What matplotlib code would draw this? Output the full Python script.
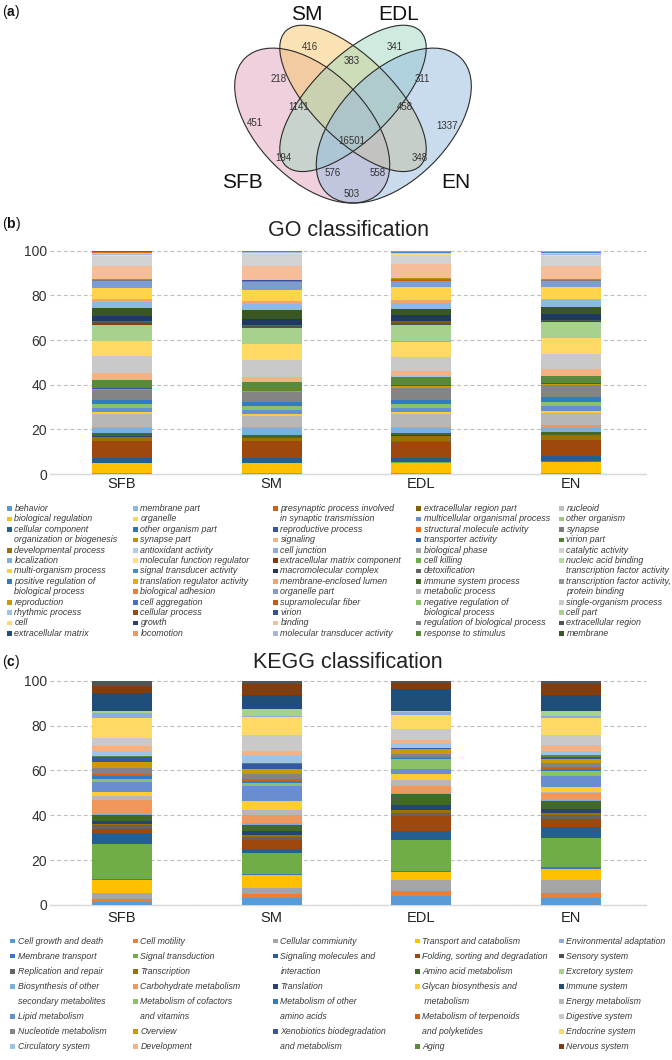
import matplotlib
matplotlib.use('Agg')
import matplotlib.pyplot as plt
from matplotlib.patches import Ellipse, Rectangle
from matplotlib.colors import to_rgb
import numpy as np
import colorsys

plt.rcParams['font.family'] = ['Liberation Sans', 'DejaVu Sans']
plt.rcParams['mathtext.fontset'] = 'custom'
plt.rcParams['mathtext.rm'] = 'Liberation Sans'
plt.rcParams['mathtext.bf'] = 'Liberation Sans:bold'

# ------------------------------------------------------------------ data
venn_sets = ['SFB', 'SM', 'EDL', 'EN']
venn_regions = ['SFB', 'SM', 'EDL', 'EN', 'SFB&SM', 'SM&EDL', 'EDL&EN', 'SFB&EN',
                'SFB&SM&EDL', 'SM&EDL&EN', 'SFB&SM&EDL&EN', 'SFB&EDL', 'SM&EN',
                'SFB&EDL&EN', 'SFB&SM&EN']
venn_counts = [451, 416, 341, 1337, 218, 383, 311, 503, 1141, 458, 16501, 194, 348, 576, 558]

samples = ['SFB', 'SM', 'EDL', 'EN']

go_terms = [
    'behavior', 'biological adhesion', 'biological phase', 'biological regulation',
    'cell aggregation', 'cell killing', 'cellular component organization or biogenesis',
    'cellular process', 'detoxification', 'developmental process', 'growth',
    'immune system process', 'localization', 'locomotion', 'metabolic process',
    'multi-organism process', 'multicellular organismal process',
    'negative regulation of biological process', 'positive regulation of biological process',
    'presynaptic process involved in synaptic transmission', 'regulation of biological process',
    'reproduction', 'reproductive process', 'response to stimulus', 'rhythmic process',
    'signaling', 'single-organism process',
    'cell', 'cell junction', 'cell part', 'extracellular matrix', 'extracellular matrix component',
    'extracellular region', 'extracellular region part', 'macromolecular complex', 'membrane',
    'membrane part', 'membrane-enclosed lumen', 'nucleoid', 'organelle', 'organelle part',
    'other organism', 'other organism part', 'supramolecular fiber', 'synapse', 'synapse part',
    'virion', 'virion part',
    'antioxidant activity', 'binding', 'catalytic activity', 'molecular function regulator',
    'molecular transducer activity', 'nucleic acid binding transcription factor activity',
    'signal transducer activity', 'structural molecule activity',
    'transcription factor activity, protein binding', 'translation regulator activity',
    'transporter activity']

go_SFB = [0.1, 0.3, 0.1, 4.5, 0.1, 0.05, 2.0, 7.6, 0.1, 1.9, 0.2, 1.6, 1.9, 0.6, 6.0, 0.6, 2.0,
          1.8, 1.8, 0.05, 4.2, 0.6, 0.2, 3.8, 0.05, 3.0, 7.6,
          6.6, 0.2, 7.3, 0.1, 0.1, 1.0, 0.3, 2.4, 3.6, 2.7, 1.1, 0.02, 5.2, 3.0, 0.05, 0.05,
          0.1, 0.4, 0.3, 0.05, 0.05,
          0.1, 5.8, 4.3, 0.6, 0.3, 0.3, 0.4, 0.3, 0.1, 0.03, 0.4]
go_SM = [0.1, 0.3, 0.1, 4.4, 0.05, 0.05, 2.0, 7.8, 0.1, 1.1, 0.1, 1.4, 2.9, 0.6, 5.0, 0.7, 2.0,
         1.8, 1.9, 0.05, 4.1, 0.5, 0.2, 3.9, 0.05, 2.3, 7.6,
         7.0, 0.1, 7.2, 0.1, 0.1, 0.9, 0.2, 2.8, 3.9, 2.9, 1.0, 0.02, 5.2, 3.4, 0.05, 0.05,
         0.1, 0.3, 0.2, 0.05, 0.05,
         0.1, 6.3, 5.6, 0.4, 0.2, 0.2, 0.2, 0.1, 0.05, 0.03, 0.1]
go_EDL = [0.1, 0.3, 0.1, 4.6, 0.05, 0.05, 2.1, 7.2, 0.1, 2.6, 0.2, 1.1, 1.9, 0.5, 6.0, 0.7, 2.1,
          1.6, 2.0, 0.05, 5.2, 0.7, 0.5, 3.9, 0.05, 2.5, 6.3,
          6.8, 0.2, 7.2, 0.1, 0.1, 0.9, 0.6, 2.8, 2.9, 2.6, 1.2, 0.02, 5.7, 2.9, 0.05, 0.05,
          0.1, 0.6, 0.3, 0.05, 0.05,
          0.1, 6.1, 4.0, 0.6, 0.2, 0.3, 0.4, 0.2, 0.1, 0.03, 0.25]
go_EN = [0.1, 0.3, 0.1, 5.0, 0.1, 0.1, 2.3, 7.1, 0.1, 2.2, 0.2, 1.4, 2.2, 0.8, 5.3, 0.8, 2.2,
         1.9, 2.3, 0.05, 5.2, 0.6, 0.4, 3.3, 0.05, 2.7, 7.1,
         6.9, 0.2, 7.2, 0.1, 0.1, 0.6, 0.1, 2.4, 3.5, 2.7, 0.8, 0.02, 5.2, 2.5, 0.05, 0.05,
         0.1, 0.5, 0.2, 0.05, 0.05,
         0.1, 6.0, 4.3, 0.6, 0.3, 0.3, 0.4, 0.3, 0.1, 0.03, 0.35]

kegg_terms = [
    'Cell growth and death', 'Cell motility', 'Cellular commiunity', 'Transport and catabolism',
    'Membrane transport', 'Signal transduction', 'Signaling molecules and interaction',
    'Folding, sorting and degradation', 'Replication and repair', 'Transcription', 'Translation',
    'Amino acid metabolism', 'Biosynthesis of other secondary metabolites',
    'Carbohydrate metabolism', 'Energy metabolism', 'Glycan biosynthesis and metabolism',
    'Lipid metabolism', 'Metabolism of cofactors and vitamins', 'Metabolism of other amino acids',
    'Metabolism of terpenoids and polyketides', 'Nucleotide metabolism', 'Overview',
    'Xenobiotics biodegradation and metabolism', 'Aging', 'Circulatory system', 'Development',
    'Digestive system', 'Endocrine system', 'Environmental adaptation', 'Excretory system',
    'Immune system', 'Nervous system', 'Sensory system']

kegg_SFB = [1.5, 1.2, 2.8, 5.5, 0.5, 15.6, 5.0, 1.8, 1.8, 0.3, 1.5, 2.7, 0.3, 6.2, 1.8, 2.1, 4.2,
            1.2, 1.4, 1.1, 2.5, 2.7, 2.1, 0.8, 2.1, 2.1, 3.6, 8.9, 2.1, 0.9, 8.0, 3.3, 2.4]
kegg_SM = [3.0, 2.1, 2.3, 6.0, 0.2, 9.7, 1.8, 3.9, 1.5, 0.7, 1.9, 2.6, 1.0, 3.4, 2.2, 4.2, 6.5,
           1.5, 0.9, 0.9, 2.0, 2.4, 2.0, 0.8, 3.1, 2.2, 7.0, 7.9, 0.4, 3.3, 6.3, 5.0, 1.3]
kegg_EDL = [4.0, 2.3, 4.8, 3.6, 0.6, 13.7, 4.1, 6.6, 1.4, 1.2, 2.4, 4.6, 0.6, 3.1, 2.7, 2.7, 2.1,
            4.6, 0.5, 0.5, 1.2, 2.4, 0.2, 0.2, 1.5, 2.0, 4.7, 6.2, 1.4, 0.7, 9.5, 2.9, 1.0]
kegg_EN = [3.3, 2.0, 6.0, 4.9, 0.9, 12.7, 4.8, 3.6, 1.8, 1.1, 1.5, 3.9, 0.3, 3.0, 0.7, 2.2, 4.9,
           2.0, 1.2, 0.6, 2.0, 1.8, 0.6, 0.9, 1.8, 2.7, 4.6, 7.6, 0.9, 2.3, 7.0, 4.9, 1.5]

# legend arrangement (columns as shown in the figure)
go_legend_cols = [
    ['behavior', 'biological regulation', 'cellular component organization or biogenesis',
     'developmental process', 'localization', 'multi-organism process',
     'positive regulation of biological process', 'reproduction', 'rhythmic process', 'cell',
     'extracellular matrix'],
    ['membrane part', 'organelle', 'other organism part', 'synapse part', 'antioxidant activity',
     'molecular function regulator', 'signal transducer activity', 'translation regulator activity',
     'biological adhesion', 'cell aggregation', 'cellular process', 'growth', 'locomotion'],
    ['presynaptic process involved in synaptic transmission', 'reproductive process', 'signaling',
     'cell junction', 'extracellular matrix component', 'macromolecular complex',
     'membrane-enclosed lumen', 'organelle part', 'supramolecular fiber', 'virion', 'binding',
     'molecular transducer activity'],
    ['extracellular region part', 'multicellular organismal process', 'structural molecule activity',
     'transporter activity', 'biological phase', 'cell killing', 'detoxification',
     'immune system process', 'metabolic process', 'negative regulation of biological process',
     'regulation of biological process', 'response to stimulus'],
    ['nucleoid', 'other organism', 'synapse', 'virion part', 'catalytic activity',
     'nucleic acid binding transcription factor activity',
     'transcription factor activity, protein binding', 'single-organism process', 'cell part',
     'extracellular region', 'membrane']]
kegg_legend_cols = [
    ['Cell growth and death', 'Membrane transport', 'Replication and repair',
     'Biosynthesis of other secondary metabolites', 'Lipid metabolism', 'Nucleotide metabolism',
     'Circulatory system'],
    ['Cell motility', 'Signal transduction', 'Transcription', 'Carbohydrate metabolism',
     'Metabolism of cofactors and vitamins', 'Overview', 'Development'],
    ['Cellular commiunity', 'Signaling molecules and interaction', 'Translation',
     'Metabolism of other amino acids', 'Xenobiotics biodegradation and metabolism'],
    ['Transport and catabolism', 'Folding, sorting and degradation', 'Amino acid metabolism',
     'Glycan biosynthesis and metabolism', 'Metabolism of terpenoids and polyketides', 'Aging'],
    ['Environmental adaptation', 'Sensory system', 'Excretory system', 'Immune system',
     'Energy metabolism', 'Digestive system', 'Endocrine system', 'Nervous system']]

wrap = {
    'cellular component organization or biogenesis': 'cellular component\norganization or biogenesis',
    'positive regulation of biological process': 'positive regulation of\nbiological process',
    'presynaptic process involved in synaptic transmission': 'presynaptic process involved\nin synaptic transmission',
    'negative regulation of biological process': 'negative regulation of\nbiological process',
    'nucleic acid binding transcription factor activity': 'nucleic acid binding\ntranscription factor activity',
    'transcription factor activity, protein binding': 'transcription factor activity,\nprotein binding',
    'Biosynthesis of other secondary metabolites': 'Biosynthesis of other\nsecondary metabolites',
    'Metabolism of cofactors and vitamins': 'Metabolism of cofactors\nand vitamins',
    'Signaling molecules and interaction': 'Signaling molecules and\ninteraction',
    'Metabolism of other amino acids': 'Metabolism of other\namino acids',
    'Xenobiotics biodegradation and metabolism': 'Xenobiotics biodegradation\nand metabolism',
    'Glycan biosynthesis and metabolism': 'Glycan biosynthesis and\n metabolism',
    'Metabolism of terpenoids and polyketides': 'Metabolism of terpenoids\nand polyketides',
}

# ------------------------------------------------------------------ style
accents = ['#5B9BD5', '#ED7D31', '#A5A5A5', '#FFC000', '#4472C4', '#70AD47']
variations = [(1, 0), (0.6, 0), (0.8, 0.2), (0.8, 0), (0.6, 0.4), (0.5, 0),
              (0.7, 0.3), (0.75, 0), (0.5, 0.5), (0.9, 0)]


def excel_color(i):
    r, g, b = to_rgb(accents[i % 6])
    m, o = variations[i // 6]
    h, l, s = colorsys.rgb_to_hls(r, g, b)
    return colorsys.hls_to_rgb(h, min(1.0, l * m + o), s)


W, H = 672, 1060
fig = plt.figure(figsize=(W / 100, H / 100), dpi=100)
fig.patch.set_facecolor('white')

TXT = '#333333'

# ------------------------------------------------------------------ (a) Venn
venn_pos = {'SFB': (0.14, 0.478), 'SM': (0.340, 0.760), 'EDL': (0.652, 0.760), 'EN': (0.845, 0.470),
            'SFB&SM': (0.228, 0.641), 'SM&EDL': (0.496, 0.706), 'EDL&EN': (0.756, 0.641),
            'SFB&EN': (0.496, 0.217), 'SFB&SM&EDL': (0.300, 0.539), 'SM&EDL&EN': (0.690, 0.539),
            'SFB&SM&EDL&EN': (0.496, 0.412), 'SFB&EDL': (0.246, 0.351), 'SM&EN': (0.745, 0.351),
            'SFB&EDL&EN': (0.424, 0.297), 'SFB&SM&EN': (0.590, 0.297)}
venn_label_pos = {'SFB': (0.095, 0.259), 'SM': (0.331, 0.877), 'EDL': (0.669, 0.877), 'EN': (0.88, 0.259)}
venn_shapes = {'SFB': ((0.35, 0.47), 0.35, 0.20, -45, '#E3A3BB'),
               'SM': ((0.50, 0.57), 0.35, 0.15, -45, '#F7C76B'),
               'EDL': ((0.50, 0.57), 0.35, 0.15, 45, '#A1D7BF'),
               'EN': ((0.65, 0.47), 0.35, 0.20, 45, '#93BBDF')}

vax = fig.add_axes([217 / W, 1 - 215 / H, 272 / W, 215 / H])
vax.set_xlim(0, 1)
vax.set_ylim(0.141, 0.932)
vax.axis('off')
for s in venn_sets:
    c, a, b, ang, col = venn_shapes[s]
    vax.add_patch(Ellipse(c, 2 * a, 2 * b, angle=ang, facecolor=col, alpha=0.5, edgecolor='none'))
for s in venn_sets:
    c, a, b, ang, col = venn_shapes[s]
    vax.add_patch(Ellipse(c, 2 * a, 2 * b, angle=ang, facecolor='none', edgecolor='#2b2b2b', lw=0.8))
for reg, cnt in zip(venn_regions, venn_counts):
    x, y = venn_pos[reg]
    vax.text(x, y, str(cnt), ha='center', va='center', fontsize=7, color=TXT)
for s in venn_sets:
    x, y = venn_label_pos[s]
    vax.text(x, y, s, ha='center', va='center', fontsize=15, color='#111111', clip_on=False)

# panel labels
for lab, ypx in [('a', 12), ('b', 224), ('c', 662)]:
    fig.text(2 / W, 1 - ypx / H, r'($\mathbf{%s}$)' % lab, ha='left', va='center', fontsize=10,
             color='#111111')


# ------------------------------------------------------------------ stacked bars
def stacked_panel(ax, terms, data, pad_x):
    x = np.arange(len(samples))
    bottom = np.zeros(len(samples))
    for i, term in enumerate(terms):
        vals = np.array([data[s][i] for s in samples])
        ax.bar(x, vals, 0.4, bottom=bottom, color=excel_color(i), linewidth=0, zorder=3)
        bottom += vals
    ax.set_xlim(-0.48, 3.5)
    ax.set_ylim(0, 100)
    ax.set_yticks([0, 20, 40, 60, 80, 100])
    ax.yaxis.grid(True, linestyle=(0, (3.5, 2.5)), color='#BFBFBF', lw=0.8, zorder=0)
    for gl in ax.get_ygridlines():
        gl.set_clip_on(False)
    ax.set_axisbelow(True)
    for sp in ax.spines.values():
        sp.set_visible(False)
    ax.axhline(0, color='#D9D9D9', lw=1.0, zorder=2, clip_on=False)
    ax.set_xticks(x)
    ax.set_xticklabels(samples, fontsize=10.5, color='#222222')
    ax.tick_params(axis='y', length=0, labelsize=10, colors='#333333', pad=2.2)
    ax.tick_params(axis='x', length=0, pad=pad_x)


go_data = {'SFB': go_SFB, 'SM': go_SM, 'EDL': go_EDL, 'EN': go_EN}
kegg_data = {'SFB': kegg_SFB, 'SM': kegg_SM, 'EDL': kegg_EDL, 'EN': kegg_EN}

ax_go = fig.add_axes([50 / W, 1 - 474 / H, 596 / W, 223.3 / H])
stacked_panel(ax_go, go_terms, go_data, 2.5)
ax_kegg = fig.add_axes([50 / W, 1 - 905 / H, 596 / W, 224.3 / H])
stacked_panel(ax_kegg, kegg_terms, kegg_data, 4.0)

fig.text(348 / W, 1 - 230 / H, 'GO classification', ha='center', va='center', fontsize=15.5,
         color='#222222')
fig.text(348 / W, 1 - 663 / H, 'KEGG classification', ha='center', va='center', fontsize=15.5,
         color='#222222')


# ------------------------------------------------------------------ legends
def draw_legend(cols, xs, terms, y0, dy, fs):
    for cx, names in zip(xs, cols):
        line = 0
        for name in names:
            yc = y0 + line * dy
            col = excel_color(terms.index(name))
            fig.add_artist(Rectangle((cx / W, 1 - (yc + 2.4) / H), 4.6 / W, 4.6 / H,
                                     transform=fig.transFigure, facecolor=col, edgecolor='none'))
            parts = wrap.get(name, name).split('\n')
            for k, t in enumerate(parts):
                fig.text((cx + 7.5) / W, 1 - (yc + k * dy) / H, t, ha='left', va='center',
                         fontsize=fs, style='italic', color='#3A3A3A')
            line += len(parts)


draw_legend(go_legend_cols, [7, 133, 273, 416, 559], go_terms, 508.5, 10.4, 6.4)
draw_legend(kegg_legend_cols, [10, 133, 273, 415, 559], kegg_terms, 941, 15.05, 6.3)

fig.savefig('out.png', dpi=100, facecolor='white')
